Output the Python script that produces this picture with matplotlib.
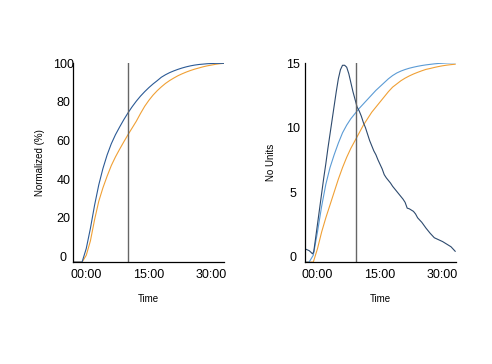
import matplotlib
matplotlib.use("Agg")
import matplotlib.pyplot as plt

plt.rcParams['font.family'] = ['Liberation Sans', 'DejaVu Sans']

# left panel: normalized curves (minutes, %)
t_norm = list(range(-3, 34))
norm_blue = [-3, -3, -3, 4, 14.5, 26.5, 37, 45.5, 52.5, 58.3, 63, 67, 70.8, 74.3,
             77.5, 80.4, 83, 85.3, 87.4, 89.3, 91, 92.8, 94.1, 95.2, 96.1, 96.9,
             97.6, 98.2, 98.7, 99.1, 99.4, 99.6, 99.8, 99.9, 100, 100, 100]
norm_orange = [-3, -3, -3, 0.5, 8, 19, 28.5, 35.5, 41.5, 47, 51.5, 55.5, 59.3,
               63, 66.5, 70, 74, 77.7, 80.8, 83.5, 85.8, 87.8, 89.6, 91.1, 92.4,
               93.6, 94.6, 95.5, 96.3, 97, 97.6, 98.2, 98.7, 99.1, 99.5, 99.8, 100]

# right panel: raw units
t_raw = list(range(-3, 34))
raw_light = [-0.44, -0.44, 0.1, 1.9, 3.9, 5.6, 6.9, 7.9, 8.8, 9.6, 10.2, 10.7,
             11.1, 11.5, 11.85, 12.2, 12.55, 12.9, 13.2, 13.5, 13.8, 14.05,
             14.25, 14.4, 14.52, 14.62, 14.7, 14.77, 14.83, 14.88, 14.92, 14.96,
             14.99, 15.01, 15.03, 15.04, 15.05]
raw_orange = [-0.44, -0.44, -0.44, 0.6, 1.9, 3.0, 4.0, 5.0, 6.0, 6.9, 7.7, 8.4,
              9.0, 9.6, 10.2, 10.7, 11.2, 11.6, 12.0, 12.4, 12.8, 13.15, 13.4,
              13.65, 13.85, 14.02, 14.17, 14.3, 14.42, 14.53, 14.6, 14.68, 14.75,
              14.81, 14.86, 14.9, 14.93]
t_rate = [-3.1, -2.5, -2, -1.5, -1.2, -0.9, -0.5, 0, 0.5, 1, 1.5, 2, 2.5, 3, 3.5,
          4, 4.5, 5, 5.5, 6, 6.5, 7, 7.5, 8, 8.5, 9, 9.5, 10, 10.5, 11, 11.5, 12,
          12.5, 13, 13.5, 14, 14.5, 15, 15.5, 16, 16.5, 17, 17.5, 18, 18.5, 19,
          19.5, 20, 20.5, 21, 21.5, 22, 22.5, 23, 23.5, 24, 25, 26, 27, 28, 29,
          30, 31, 32, 33]
rate = [0.6, 0.52, 0.45, 0.3, 0.2, 0.36, 1.3, 2.5, 3.7, 4.9, 6.1, 7.2, 8.4, 9.5,
        10.6, 11.7, 12.8, 13.8, 14.5, 14.85, 14.85, 14.7, 14.2, 13.5, 12.8,
        12.2, 11.6, 11.3, 10.9, 10.4, 10.0, 9.5, 9.0, 8.6, 8.2, 7.9, 7.5, 7.15,
        6.8, 6.35, 6.1, 5.9, 5.7, 5.45, 5.25, 5.05, 4.85, 4.65, 4.45, 4.2, 3.75,
        3.7, 3.6, 3.5, 3.3, 3.0, 2.65, 2.2, 1.8, 1.45, 1.3, 1.15, 0.95, 0.75, 0.4]

x_ticks = [0, 15, 30]
x_labels = ['00:00', '15:00', '30:00']

fig = plt.figure(figsize=(4.92, 3.64), dpi=100)
ax1 = fig.add_axes([0.149, 0.28, 0.307, 0.546])
ax2 = fig.add_axes([0.619, 0.28, 0.307, 0.546])

lw = 0.8
ax1.plot(t_norm, norm_orange, color='#f0a035', lw=lw)
ax1.plot(t_norm, norm_blue, color='#2b5a96', lw=lw)
ax1.axvline(10.1, color='#666666', lw=1.0)
ax1.set_ylim(-3, 100)
ax1.set_yticks([0, 20, 40, 60, 80, 100])
ax1.set_ylabel('Normalized (%)', fontsize=7)
ax1.yaxis.set_label_coords(-0.187, 0.5)

ax2.plot(t_raw, raw_orange, color='#f0a035', lw=lw)
ax2.plot(t_raw, raw_light, color='#5b9bd5', lw=lw)
ax2.plot(t_rate, rate, color='#2d4a6e', lw=lw)
ax2.axvline(9.3, color='#666666', lw=1.0)
ax2.set_ylim(-0.44, 15)
ax2.set_yticks([0, 5, 10, 15])
ax2.set_ylabel('No Units', fontsize=7)
ax2.yaxis.set_label_coords(-0.187, 0.5)

for ax, ypad in ((ax1, 7.2), (ax2, 8.6)):
    ax.set_xlim(-3.1, 33.1)
    ax.set_xticks(x_ticks)
    ax.set_xticklabels(x_labels)
    ax.set_xlabel('Time', fontsize=7)
    ax.xaxis.set_label_coords(0.5, -0.161)
    for s in ('top', 'right'):
        ax.spines[s].set_visible(False)
    for s in ('left', 'bottom'):
        ax.spines[s].set_linewidth(0.9)
        ax.spines[s].set_color('black')
    ax.tick_params(axis='both', length=0, labelsize=9)
    ax.tick_params(axis='x', pad=5)
    ax.tick_params(axis='y', pad=ypad)
    for lab in ax.get_yticklabels():
        lab.set_horizontalalignment('center')

fig.savefig('out.png', dpi=100)
